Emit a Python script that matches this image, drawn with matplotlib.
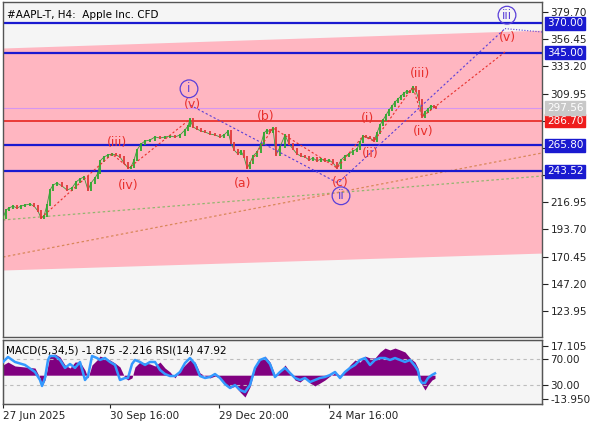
import matplotlib
matplotlib.use("Agg")
import matplotlib.pyplot as plt
import matplotlib.transforms as mtransforms

# price path (bar position, close)
bar_x = [3, 6, 9, 13, 17, 21, 25, 30, 34, 38, 41, 44, 47, 50, 53, 57, 62, 67, 72, 76,
         80, 84, 88, 91, 95, 98, 100, 104, 108, 112, 116, 120, 124, 128, 131, 134, 137,
         141, 145, 150, 155, 160, 165, 170, 175, 180, 185, 188, 190, 193, 197, 201, 205,
         210, 215, 220, 224, 228, 231, 234, 238, 241, 244, 247, 250, 253, 257, 261, 264,
         267, 270, 273, 276, 280, 285, 289, 293, 297, 301, 305, 309, 313, 317, 321, 325,
         329, 333, 337, 341, 345, 349, 353, 357, 360, 363, 366, 370, 374, 377, 380, 383,
         386, 389, 392, 395, 398, 401, 404, 407, 410, 413, 416, 419, 422, 425, 428, 431,
         434, 436]
bar_close = [203.5, 210.3, 212.0, 213.7, 212.0, 213.7, 214.6, 215.4, 213.7, 209.4, 203.5,
             205.2, 214.6, 227.4, 231.7, 233.4, 230.9, 227.4, 229.2, 234.3, 236.9, 238.6,
             227.4, 233.4, 237.7, 242.0, 252.3, 255.7, 257.4, 258.2, 257.4, 255.7, 250.6,
             246.3, 247.1, 253.1, 261.7, 266.8, 269.3, 270.2, 272.8, 271.9, 272.8, 273.6,
             272.8, 274.5, 278.8, 282.2, 288.0, 281.3, 279.6, 277.9, 277.0, 275.3, 274.5,
             272.8, 274.5, 277.9, 267.6, 261.7, 258.2, 260.8, 255.7, 246.3, 250.6, 256.5,
             259.9, 266.8, 276.2, 278.8, 277.0, 280.5, 257.4, 264.2, 274.5, 266.8, 262.5,
             258.2, 256.5, 255.7, 253.1, 254.8, 252.3, 254.0, 252.3, 253.1, 250.6, 246.3,
             253.1, 256.5, 258.2, 260.8, 262.5, 268.5, 273.6, 272.8, 271.9, 269.3, 276.2,
             283.0, 287.3, 291.6, 295.9, 299.3, 302.7, 305.3, 307.8, 310.4, 312.1, 311.3,
             315.6, 312.1, 304.4, 289.9, 294.2, 296.7, 299.3, 298.4, 297.56]

# MACD histogram and RSI(14)
ind_x = [3, 8, 15, 25, 35, 40, 42, 45, 48, 50, 55, 60, 65, 70, 75, 80, 85, 88, 92, 97,
         100, 105, 110, 115, 120, 125, 128, 132, 135, 140, 145, 150, 155, 160, 165, 170,
         175, 180, 185, 190, 195, 200, 205, 210, 215, 220, 225, 230, 235, 240, 245, 250,
         255, 260, 265, 270, 275, 280, 285, 290, 295, 300, 305, 310, 315, 320, 325, 330,
         335, 340, 345, 350, 355, 360, 365, 370, 375, 380, 385, 390, 395, 400, 405, 410,
         415, 418, 420, 422, 425, 428, 432, 435]
macd_hist = [6.0, 7.7, 5.4, 4.8, 4.2, -1.6, -6.3, -2.8, 6.0, 11.8, 12.4, 10.7, 6.0, 4.2,
             7.7, 7.7, 3.0, -1.6, 6.0, 8.9, 11.2, 10.1, 8.9, 7.1, 4.8, -1.6, -2.8, -1.6,
             4.8, 7.7, 7.1, 6.6, 5.4, 7.7, 4.2, 1.9, -1.6, 3.0, 6.0, 8.9, 7.7, 1.3, -0.5,
             -1.6, -0.5, -1.6, -5.7, -7.5, -6.5, -9.8, -12.8, -6.9, 4.2, 8.9, 11.2, 7.7,
             0.1, 1.9, 6.0, 1.9, -2.8, -4.0, -1.6, -4.6, -6.3, -4.6, -2.8, -0.5, 1.3, 0.1,
             1.9, 6.0, 8.9, 7.7, 11.2, 10.1, 10.1, 13.6, 15.9, 14.8, 15.9, 14.8, 13.6, 10.1,
             7.7, 4.2, -1.6, -5.7, -8.7, -5.7, -2.8, -1.875]
rsi = [65.4, 73.1, 65.4, 60.8, 50.0, 37.7, 28.5, 40.8, 68.5, 74.6, 74.6, 68.5, 56.2, 62.3,
       56.2, 65.4, 37.7, 43.8, 74.6, 71.5, 68.5, 71.5, 65.4, 60.8, 37.7, 40.8, 40.8, 62.3,
       68.5, 65.4, 60.8, 65.4, 65.4, 53.1, 46.9, 43.8, 43.8, 50.0, 63.8, 71.5, 62.3, 43.8,
       40.8, 42.3, 46.9, 40.8, 31.5, 25.4, 30.0, 22.3, 19.2, 30.0, 56.2, 68.5, 71.5, 62.3,
       42.3, 50.0, 56.2, 48.5, 40.8, 37.7, 40.8, 34.6, 37.7, 40.8, 42.3, 45.4, 50.0, 40.8,
       50.0, 56.2, 60.8, 68.5, 71.5, 60.8, 68.5, 71.5, 71.5, 68.5, 71.5, 68.5, 65.4, 68.5,
       59.2, 52.0, 37.7, 33.1, 33.1, 40.8, 45.4, 47.92]

# levels and channel
blue_levels = [370.00, 345.00, 265.80, 243.52]
red_level = 286.70
bid_price = 297.56
price_ticks = [379.70, 356.45, 333.20, 309.95, 286.70, 263.45, 240.20, 216.95, 193.70,
               170.45, 147.20, 123.95]
hidden_ticks = [286.70, 263.45, 240.20]  # covered by the level boxes
channel_x = [3, 542]
channel_top = [348.9, 364.2]
channel_bottom = [159.0, 173.5]
green_trend = [201.8, 239.4]
orange_trend = [170.1, 259.1]

# wave markings: (x, price)
red_wave_left = [(41, 203.5), (112, 258.2), (129, 246.3), (190, 288.0)]
red_wave_right = [(247, 246.3), (273, 280.5), (337, 246.3), (363, 273.6), (374, 269.3),
                  (413, 315.6), (422, 289.9), (505, 345.5)]
violet_wave = [(190, 300.1), (338, 233.4), (505, 365.5)]
violet_forecast = [(505, 365.5), (542, 362.6)]
red_labels = [("(iii)", 117, 268.0), ("(iv)", 128, 231.7), ("(v)", 192, 301.0),
              ("(b)", 266, 290.6), ("(a)", 243, 233.4), ("(c)", 340, 234.0),
              ("(i)", 367, 289.0), ("(ii)", 370, 259.0), ("(iii)", 420, 327.5),
              ("(iv)", 423, 277.8), ("(v)", 507, 358.0)]
circle_labels = [("i", 189, 314.0), ("ii", 341, 222.5), ("iii", 507, 377.0)]

date_pos = [3, 110, 219, 329]
date_labels = ["27 Jun 2025", "30 Sep 16:00", "29 Dec 20:00", "24 Mar 16:00"]

BLUE = "#1a1ad0"
RED = "#e8302c"
VIOLET = "#5a3fd8"
FRAME = "#555555"

fig = plt.figure(figsize=(5.96, 4.25), dpi=100)
fig.patch.set_facecolor("white")
ax = fig.add_axes([3 / 596, 1 - 337 / 425, 539 / 596, 335 / 425])
ax_ind = fig.add_axes([3 / 596, 1 - 404 / 425, 539 / 596, 64 / 425])

for a in (ax, ax_ind):
    a.set_facecolor("#f5f5f5")
    a.set_xlim(3, 542)
    for s in a.spines.values():
        s.set_color(FRAME)
        s.set_linewidth(1)

# main panel
ax.set_ylim(101.7, 388.25)
ax.fill_between(channel_x, channel_bottom, channel_top, color="#ffb6c1", lw=0, zorder=0)
ax.plot(channel_x, green_trend, color="#93b56f", lw=0.9, ls=(0, (2, 2)), zorder=1)
ax.plot(channel_x, orange_trend, color="#d9875a", lw=0.9, ls=(0, (2, 2)), zorder=1)

for lv in blue_levels:
    ax.axhline(lv, color=BLUE, lw=1.6, zorder=2)
ax.axhline(red_level, color=RED, lw=1.3, zorder=2)
ax.axhline(bid_price, color="#d596f0", lw=0.8, zorder=2)

# candles: open = previous close
ax.plot(bar_x, bar_close, color="#3c9a3c", lw=0.6, zorder=3)
opens = [bar_close[0]] + bar_close[:-1]
for x, o, c in zip(bar_x, opens, bar_close):
    col = "#2ea82e" if c >= o else "#e03a3a"
    lo, hi = min(o, c), max(o, c)
    ax.vlines(x, lo - 0.6, hi + 0.6, color=col, lw=1.3, zorder=3)

# wave lines
for pts, col, ls in [(red_wave_left, RED, (0, (2, 2))), (red_wave_right, RED, (0, (2, 2))),
                     (violet_wave, VIOLET, (0, (2, 2))), (violet_forecast, VIOLET, (0, (1, 1.5)))]:
    xs = [p[0] for p in pts]
    ys = [p[1] for p in pts]
    ax.plot(xs, ys, color=col, lw=0.8, ls=ls, zorder=4)

for txt, x, y in red_labels:
    ax.text(x, y, txt, color=RED, fontsize=9, ha="center", va="center", zorder=5)
for txt, x, y in circle_labels:
    ax.text(x, y, txt, color=VIOLET, fontsize=8.5, ha="center", va="center", zorder=5,
            bbox=dict(boxstyle="circle,pad=0.2", fc="none", ec=VIOLET, lw=0.9))

ax.text(0.008, 0.975, "#AAPL-T, H4:  Apple Inc. CFD", transform=ax.transAxes,
        fontsize=7.5, ha="left", va="top", color="black")

ax.yaxis.tick_right()
ax.set_yticks(price_ticks)
ax.set_yticklabels(["" if v in hidden_ticks else "%.2f" % v for v in price_ticks])
ax.tick_params(axis="y", direction="out", length=4, pad=2, labelsize=7.5,
               colors="#222222")
ax.set_xticks([])

# boxed price labels on the scale
trans = mtransforms.blended_transform_factory(ax.transAxes, ax.transData)
boxes = [(v, BLUE, "white") for v in blue_levels] + [(red_level, "#ee1c1c", "white"),
                                                    (bid_price, "#c8c8c8", "white")]
for v, fc, tc in boxes:
    ax.text(1 + 5 / 539, v, "%.2f" % v, transform=trans, fontsize=7.5, color=tc,
            ha="left", va="center", clip_on=False, zorder=10,
            bbox=dict(boxstyle="square,pad=0.15", fc=fc, ec=fc))

# indicator panel
ax_ind.set_ylim(-16.88, 20.62)
ax_ind.fill_between(ind_x, 0, macd_hist, color="#800080", lw=0, zorder=2)

ax_rsi = ax_ind.twinx()
ax_rsi.set_ylim(0.8, 99.2)
ax_rsi.axhline(70, color="#bdbdbd", lw=0.8, ls=(0, (3, 3)))
ax_rsi.axhline(30, color="#bdbdbd", lw=0.8, ls=(0, (3, 3)))
ax_rsi.plot(ind_x, rsi, color="#3399ff", lw=1.8, zorder=3)
ax_rsi.set_yticks([70, 30])
ax_rsi.set_yticklabels(["70.00", "30.00"])
ax_rsi.tick_params(axis="y", direction="out", length=4, pad=2, labelsize=7.5,
                   colors="#222222")
for s in ax_rsi.spines.values():
    s.set_color(FRAME)

# twinx moves the MACD scale to the left, put it back on the right
ax_ind.yaxis.tick_right()
ax_ind.set_yticks([17.105, -13.95])
ax_ind.set_yticklabels(["17.105", "-13.950"])
ax_ind.tick_params(axis="y", direction="out", length=4, pad=2, labelsize=7.5,
                   colors="#222222")

ax_ind.text(0.005, 0.92, "MACD(5,34,5) -1.875 -2.216 RSI(14) 47.92",
            transform=ax_ind.transAxes, fontsize=7.5, ha="left", va="top", zorder=6)

ax_ind.set_xticks(date_pos)
ax_ind.set_xticklabels(date_labels)
for lbl in ax_ind.get_xticklabels():
    lbl.set_ha("left")
ax_ind.tick_params(axis="x", direction="out", length=3, pad=2, labelsize=7.5,
                   colors="#222222")

fig.savefig("out.png", dpi=100, facecolor="white")
